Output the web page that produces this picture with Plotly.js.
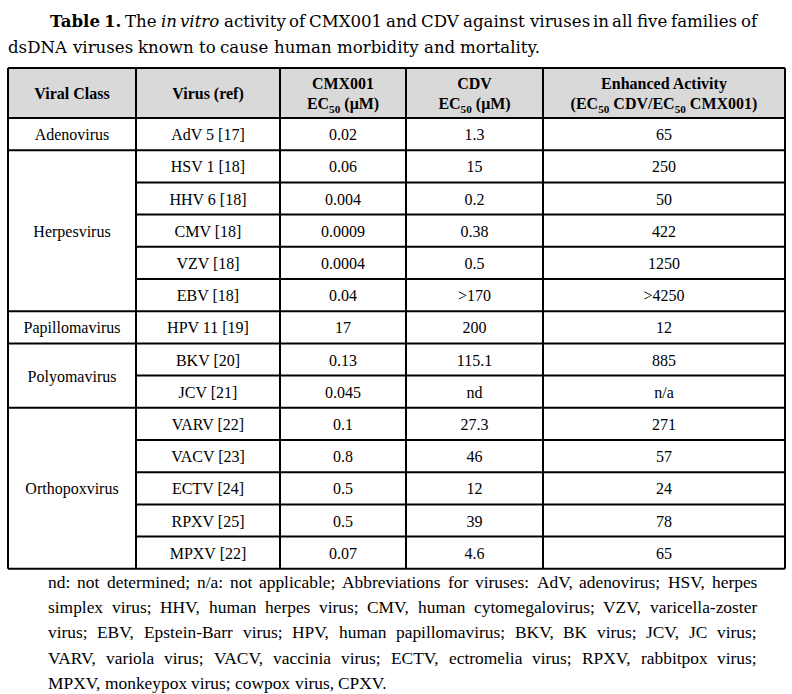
<!DOCTYPE html>
<html>
<head>
<meta charset="utf-8">
<script src="https://cdn.plot.ly/plotly-3.0.1.min.js"></script>
<style>body{margin:0;background:#fff}</style>
</head>
<body>
<div id="tbl" style="width:792px;height:694px"></div>
<script>
// Table content
const CLASSES = ['Adenovirus', 'Herpesvirus', 'Papillomavirus', 'Polyomavirus', 'Orthopoxvirus'];
const CLASS_ROWS = [1, 5, 1, 2, 5];
const VIRUSES = ['AdV 5 [17]', 'HSV 1 [18]', 'HHV 6 [18]', 'CMV [18]', 'VZV [18]', 'EBV [18]', 'HPV 11 [19]',
  'BKV [20]', 'JCV [21]', 'VARV [22]', 'VACV [23]', 'ECTV [24]', 'RPXV [25]', 'MPXV [22]'];
const CMX001_EC50 = ['0.02', '0.06', '0.004', '0.0009', '0.0004', '0.04', '17', '0.13', '0.045', '0.1', '0.8', '0.5', '0.5', '0.07'];
const CDV_EC50 = ['1.3', '15', '0.2', '0.38', '0.5', '>170', '200', '115.1', 'nd', '27.3', '46', '12', '39', '4.6'];
const ENHANCED = ['65', '250', '50', '422', '1250', '>4250', '12', '885', 'n/a', '271', '57', '24', '78', '65'];
const HEADERS = ['Viral Class', 'Virus (ref)', 'CMX001<br>EC<sub>50</sub> (μM)', 'CDV<br>EC<sub>50</sub> (μM)',
  'Enhanced Activity<br>(EC<sub>50</sub> CDV/EC<sub>50</sub> CMX001)'];

const CAPTION = [
  '<b>Table</b> <b>1.</b> The <i>in</i> <i>vitro</i> activity of CMX001 and CDV against viruses in all five families of',
  'dsDNA viruses known to cause human morbidity and mortality.'
];
const NOTES = [
  'nd: not determined; n/a: not applicable; Abbreviations for viruses: AdV, adenovirus; HSV, herpes',
  'simplex virus; HHV, human herpes virus; CMV, human cytomegalovirus; VZV, varicella-zoster',
  'virus; EBV, Epstein-Barr virus; HPV, human papillomavirus; BKV, BK virus; JCV, JC virus;',
  'VARV, variola virus; VACV, vaccinia virus; ECTV, ectromelia virus; RPXV, rabbitpox virus;',
  'MPXV, monkeypox virus; cowpox virus, CPXV.'
];

// Geometry (axis units = pixels, y grows downward)
const COL_EDGES = [8, 136, 280, 406, 543, 785];
const TOP = 68, HEAD_H = 50, ROW_H = 32.2;
const TEXT_DY = 2; // nudge so glyphs sit visually centred in the cells
const LINE = { color: '#000', width: 2 };
const CELL_FONT = { family: 'Liberation Serif', size: 16, color: '#000' };
const CAP_FONT = { family: 'DejaVu Serif', size: 16.6, color: '#000' };
const NOTE_FONT = { family: 'Liberation Serif', size: 17.4, color: '#000' };

const nRows = VIRUSES.length;
const bodyTop = TOP + HEAD_H;
const bottom = bodyTop + nRows * ROW_H;
const colMid = i => (COL_EDGES[i] + COL_EDGES[i + 1]) / 2;
const rowMid = r => bodyTop + (r + 0.5) * ROW_H + TEXT_DY;
const rowIdx = VIRUSES.map((v, i) => i);

// first row of each class group
const groupStart = [];
CLASS_ROWS.reduce((acc, n) => { groupStart.push(acc); return acc + n; }, 0);

function textCol(col, ys, texts, font) {
  return {
    x: ys.map(() => colMid(col)), y: ys, text: texts,
    mode: 'text', textposition: 'middle center', textfont: font,
    hoverinfo: 'skip', showlegend: false, cliponaxis: false
  };
}

const traces = [
  textCol(0, CLASSES.map((c, g) => rowMid(groupStart[g] + (CLASS_ROWS[g] - 1) / 2)), CLASSES, CELL_FONT),
  textCol(1, rowIdx.map(rowMid), VIRUSES, CELL_FONT),
  textCol(2, rowIdx.map(rowMid), CMX001_EC50, CELL_FONT),
  textCol(3, rowIdx.map(rowMid), CDV_EC50, CELL_FONT),
  textCol(4, rowIdx.map(rowMid), ENHANCED, CELL_FONT),
  {
    x: HEADERS.map((h, i) => colMid(i)), y: HEADERS.map(() => TOP + HEAD_H / 2 + TEXT_DY),
    text: HEADERS.map(h => '<b>' + h.replace('<br>', '</b><br><b>') + '</b>'),
    mode: 'text', textposition: 'middle center', textfont: CELL_FONT,
    hoverinfo: 'skip', showlegend: false, cliponaxis: false
  }
];

// grid
const shapes = [{
  type: 'rect', xref: 'x', yref: 'y', x0: COL_EDGES[0], x1: COL_EDGES[5], y0: TOP, y1: bodyTop,
  fillcolor: '#d9d9d9', line: { width: 0 }, layer: 'below'
}];
function hline(x0, x1, y) { shapes.push({ type: 'line', xref: 'x', yref: 'y', x0, x1, y0: y, y1: y, line: LINE }); }
function vline(x, y0, y1) { shapes.push({ type: 'line', xref: 'x', yref: 'y', x0: x, x1: x, y0, y1, line: LINE }); }
hline(COL_EDGES[0], COL_EDGES[5], TOP);
hline(COL_EDGES[0], COL_EDGES[5], bodyTop);
for (let r = 1; r <= nRows; r++) {
  const y = bodyTop + r * ROW_H;
  const full = r === nRows || groupStart.includes(r);
  hline(full ? COL_EDGES[0] : COL_EDGES[1], COL_EDGES[5], y);
}
COL_EDGES.forEach(x => vline(x, TOP, bottom));

// caption and notes, justified like the printed page
const ctx = document.createElement('canvas').getContext('2d');
function wordWidth(w, f) {
  const bold = w.indexOf('<b>') >= 0, ital = w.indexOf('<i>') >= 0;
  ctx.font = (ital ? 'italic ' : '') + (bold ? 'bold ' : '') + f.size + 'px "' + f.family + '"';
  return ctx.measureText(w.replace(/<[^>]+>/g, '')).width;
}
const annotations = [];
function setLine(line, x0, x1, y, f, justify) {
  const words = line.split(' ');
  const widths = words.map(w => wordWidth(w, f));
  const total = widths.reduce((a, b) => a + b, 0);
  const gap = justify ? (x1 - x0 - total) / (words.length - 1) : wordWidth(' ', f);
  let x = x0;
  words.forEach((w, i) => {
    annotations.push({
      x, y, xref: 'x', yref: 'y', xanchor: 'left', yanchor: 'middle', text: w,
      showarrow: false, font: f, borderpad: 0, borderwidth: 0
    });
    x += widths[i] + gap;
  });
}

function draw() {
  setLine(CAPTION[0], 50, 757, 21, CAP_FONT, true);
  setLine(CAPTION[1], 8, 757, 47, CAP_FONT, false);
  NOTES.forEach((l, i) => setLine(l, 48, 757, 582 + i * 25.2, NOTE_FONT, i < NOTES.length - 1));

  const layout = {
    width: 792, height: 694,
    margin: { l: 0, r: 0, t: 0, b: 0 },
    paper_bgcolor: '#fff', plot_bgcolor: '#fff',
    xaxis: { range: [0, 792], visible: false, fixedrange: true },
    yaxis: { range: [694, 0], visible: false, fixedrange: true },
    shapes, annotations, showlegend: false
  };
  Plotly.newPlot('tbl', traces, layout, { staticPlot: true });
}

Promise.all([
  document.fonts.load('16px "Liberation Serif"'),
  document.fonts.load('bold 16px "Liberation Serif"'),
  document.fonts.load('16px "DejaVu Serif"'),
  document.fonts.load('bold 16px "DejaVu Serif"'),
  document.fonts.load('italic 16px "DejaVu Serif"')
]).then(draw, draw);
</script>
</body>
</html>
